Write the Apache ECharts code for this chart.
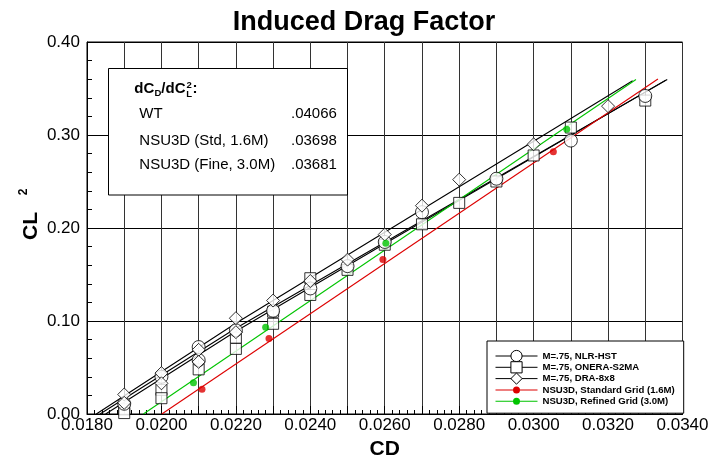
<!DOCTYPE html>
<html><head><meta charset="utf-8">
<script src="https://cdn.jsdelivr.net/npm/echarts/dist/echarts.min.js"></script>
<style>html,body{margin:0;padding:0;background:#fff}#c{width:710px;height:455px}</style>
</head><body><div id="c"></div>
<script>
// ---- data (CD, CL^2) ----
const seriesNames = ['M=.75, NLR-HST', 'M=.75, ONERA-S2MA', 'M=.75, DRA-8x8',
  'NSU3D, Standard Grid (1.6M)', 'NSU3D, Refined Grid (3.0M)'];
const nlrPoints = [[0.019,0.011],[0.020,0.040],[0.021,0.072],[0.021,0.058],[0.022,0.090],[0.023,0.111],
  [0.024,0.135],[0.025,0.159],[0.026,0.185],[0.027,0.217],[0.029,0.253],[0.031,0.294],[0.033,0.342]];
const oneraPoints = [[0.019,0.005],[0.019,0.001],[0.020,0.026],[0.020,0.017],[0.021,0.048],[0.022,0.082],
  [0.022,0.070],[0.023,0.110],[0.023,0.097],[0.024,0.146],[0.024,0.128],[0.025,0.155],[0.026,0.182],
  [0.027,0.204],[0.028,0.227],[0.029,0.250],[0.030,0.278],[0.031,0.308],[0.033,0.337]];
const draPoints = [[0.019,0.021],[0.019,0.012],[0.020,0.044],[0.020,0.033],[0.021,0.069],[0.021,0.056],
  [0.022,0.103],[0.022,0.088],[0.023,0.122],[0.024,0.143],[0.025,0.166],[0.026,0.193],[0.027,0.224],
  [0.028,0.252],[0.030,0.290],[0.032,0.331]];
const stdPoints = [[0.02109,0.0265],[0.02289,0.0811],[0.02595,0.166],[0.03053,0.2821]];
const finePoints = [[0.02086,0.0336],[0.02280,0.0933],[0.02603,0.1836],[0.03089,0.3063]];
const nlrFit = [[0.01835,0],[0.022,0.0923],[0.026,0.1846],[0.03359,0.3597]];
const oneraFit = [[0.0185,0],[0.022,0.0890],[0.026,0.1830],[0.03355,0.3590]];
const draFit = [[0.01825,0],[0.022,0.0975],[0.03266,0.3584]];
const stdFit = [[0.02001,0],[0.03334,0.3603]];
const fineFit = [[0.019515,0],[0.03275,0.3597]];
const boxRows = [['WT','.04066'],['NSU3D (Std, 1.6M)','.03698'],['NSU3D (Fine, 3.0M)','.03681']];
const xMin = 0.018, xMax = 0.034, xStep = 0.001;
const yMin = 0, yMax = 0.40, yStep = 0.10;

const FONT = '"Liberation Sans", Arial, Helvetica, sans-serif';
const RED = '#dd0000', GREEN = '#00c400';
const hollow = {color:'#fff', borderColor:'#000', borderWidth:1};

function fitSeries(name, data, symbol, itemStyle, lineColor) {
  return {type:'line', name, data, symbol, showSymbol:false, silent:true,
    lineStyle:{color:lineColor, width:1.1}, itemStyle, z:2};
}
function ptSeries(name, data, symbol, size, itemStyle) {
  return {type:'scatter', name, data, symbol, symbolSize:size, itemStyle, silent:true, z:3};
}
const dotPath = 'path://M0,3L42,3L42,4L0,4Z M24.5,3.5A3.5,3.5,0,1,1,17.5,3.5A3.5,3.5,0,1,1,24.5,3.5Z';

const txt = (text, x, y, size, weight, extra) => Object.assign({
  type:'text', x, y, z:101,
  style:{text, fontSize:size, fontWeight:weight||'normal', fontFamily:FONT, fill:'#000', align:'left', verticalAlign:'middle'}
}, extra||{});

const graphics = [
  {type:'text', x:364, y:23, z:101, style:{text:'Induced Drag Factor', fontSize:27, fontWeight:'bold', fontFamily:FONT, fill:'#000', align:'center', verticalAlign:'middle'}},
  {type:'rect', z:100, shape:{x:108.5, y:68.5, width:239, height:126.5}, style:{fill:'#fff', stroke:'#000', lineWidth:1}},
  txt('dC', 134.3, 89, 15, 'bold'),
  txt('D', 154.4, 93, 9.5, 'bold'),
  txt('/dC', 161.3, 89, 15, 'bold'),
  txt('L', 186.2, 94, 9.5, 'bold'),
  txt('2', 186.6, 85.5, 9.5, 'bold'),
  txt(':', 192.5, 89, 15, 'bold'),
  {type:'text', x:31, y:226, rotation:Math.PI/2, z:101, style:{text:'CL', fontSize:21, fontWeight:'bold', fontFamily:FONT, fill:'#000', align:'center', verticalAlign:'middle'}},
  {type:'text', x:24, y:192, rotation:Math.PI/2, z:101, style:{text:'2', fontSize:12, fontWeight:'bold', fontFamily:FONT, fill:'#000', align:'center', verticalAlign:'middle'}}
];
const rowY = [113.8, 140.5, 164.7];
boxRows.forEach((r, i) => {
  graphics.push(txt(r[0], 139.3, rowY[i], 15, 'normal'));
  graphics.push(txt(r[1], 291, rowY[i], 15, 'normal'));
});

const option = {
  animation:false,
  backgroundColor:'#fff',
  textStyle:{fontFamily:FONT},
  grid:{left:87, right:27.5, top:42, bottom:41, show:true, borderColor:'#000', borderWidth:1, outerBoundsMode:'none', containLabel:false},
  legend:{
    orient:'vertical', left:487, top:341, padding:[8,9,5,8],
    itemWidth:42, itemHeight:14, itemGap:-2.7,
    backgroundColor:'#fff', borderColor:'#000', borderWidth:1, borderRadius:0,
    textStyle:{fontFamily:FONT, fontWeight:'bold', fontSize:9.6, lineHeight:14, color:'#000'},
    itemStyle:{borderWidth:1},
    lineStyle:{width:1},
    selectedMode:false,
    data:[
      {name:seriesNames[0]},
      {name:seriesNames[1]},
      {name:seriesNames[2]},
      {name:seriesNames[3], icon:dotPath, itemStyle:{borderWidth:0}},
      {name:seriesNames[4], icon:dotPath, itemStyle:{borderWidth:0}}
    ]
  },
  xAxis:{
    type:'value', min:xMin, max:xMax, interval:xStep,
    name:'CD', nameLocation:'middle', nameGap:18,
    nameTextStyle:{fontSize:21, fontWeight:'bold', color:'#000', fontFamily:FONT},
    axisLine:{show:true, onZero:false, lineStyle:{color:'#000', width:1}},
    axisTick:{show:true, inside:true, length:8, lineStyle:{color:'#000', width:1}},
    minorTick:{show:true, splitNumber:5, length:4, lineStyle:{color:'#000', width:1}},
    axisLabel:{margin:3, fontSize:17, color:'#000', fontFamily:FONT,
      formatter:v => (Math.round(v*10000) % 20 === 0 ? v.toFixed(4) : '')},
    splitLine:{show:true, lineStyle:{color:'#333', width:1}},
    minorSplitLine:{show:false}
  },
  yAxis:{
    type:'value', min:yMin, max:yMax, interval:yStep,
    axisLine:{show:true, onZero:false, lineStyle:{color:'#000', width:1}},
    axisTick:{show:true, inside:true, length:9, lineStyle:{color:'#000', width:1}},
    minorTick:{show:true, splitNumber:5, length:5, lineStyle:{color:'#000', width:1}},
    axisLabel:{margin:7, fontSize:17, color:'#000', fontFamily:FONT, formatter:v => v.toFixed(2)},
    splitLine:{show:true, lineStyle:{color:'#000', width:1}},
    minorSplitLine:{show:false}
  },
  graphic:graphics,
  series:[
    fitSeries(seriesNames[0], nlrFit, 'circle', hollow, '#000'),
    fitSeries(seriesNames[1], oneraFit, 'rect', hollow, '#000'),
    fitSeries(seriesNames[2], draFit, 'diamond', hollow, '#000'),
    fitSeries(seriesNames[3], stdFit, 'circle', {color:RED}, RED),
    fitSeries(seriesNames[4], fineFit, 'circle', {color:GREEN}, GREEN),
    ptSeries(seriesNames[1], oneraPoints, 'rect', 11, hollow),
    ptSeries(seriesNames[0], nlrPoints, 'circle', 13, hollow),
    ptSeries(seriesNames[2], draPoints, 'diamond', 13, hollow),
    ptSeries(seriesNames[3], stdPoints, 'circle', 7, {color:RED}),
    ptSeries(seriesNames[4], finePoints, 'circle', 7, {color:GREEN})
  ]
};
const chart = echarts.init(document.getElementById('c'), null, {renderer:'canvas'});
chart.setOption(option);
</script>
</body></html>
